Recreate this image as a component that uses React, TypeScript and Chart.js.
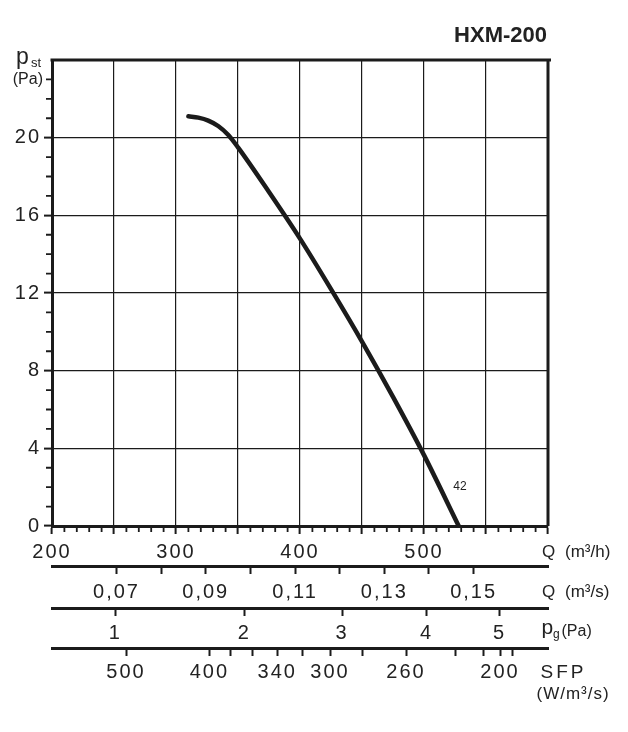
import React, { useEffect, useRef } from 'react';
import { Chart, registerables } from 'chart.js';

Chart.register(...registerables);

// ---------- data ----------
const flowM3h = [310, 318, 326, 334, 342, 350, 375, 400, 425, 450, 475, 500, 528];
const staticPressurePa = [21.1, 21.03, 20.88, 20.6, 20.15, 19.5, 17.2, 14.8, 12.2, 9.5, 6.65, 3.65, 0];
const curveName = '42';
const curveNameFlow = 529;
const curveNamePressure = 2.0;

const modelName = 'HXM-200';

const flowMin = 200;
const flowMax = 600;
const pressureMin = 0;
const pressureMax = 24;

const flowGridTicks = [200, 250, 300, 350, 400, 450, 500, 550, 600];
const flowTickLabels = [200, 300, 400, 500];
const flowMinorTicks = [210, 220, 230, 240, 260, 270, 280, 290, 310, 320, 330, 340, 360, 370, 380, 390,
  410, 420, 430, 440, 460, 470, 480, 490, 510, 520, 530, 540, 560, 570, 580, 590];

const pressureGridTicks = [0, 4, 8, 12, 16, 20, 24];
const pressureTickLabels = [0, 4, 8, 12, 16, 20];
const pressureMinorTicks = [1, 2, 3, 5, 6, 7, 9, 10, 11, 13, 14, 15, 17, 18, 19, 21, 22, 23];

const flowM3sTicks = [0.07, 0.08, 0.09, 0.10, 0.11, 0.12, 0.13, 0.14, 0.15];
const flowM3sTickLabels = ['0,07', '', '0,09', '', '0,11', '', '0,13', '', '0,15'];

const dynPressureTickLabels = ['1', '2', '3', '4', '5'];
const dynPressureFlowM3h = [251, 355, 434, 502, 561];

const sfpTickLabels = ['500', '400', '', '', '340', '', '300', '', '260', '', '', '200', ''];
const sfpFlowM3h = [259.7, 326.9, 344.1, 361.9, 381.7, 402.2, 424.2, 450.6, 485.5, 525.2, 547.8, 561.3, 571.5];

// ---------- styles ----------
const INK = '#1b1b1b';
const TEXT = '#222222';
const FAMILY = '"Liberation Sans", Arial, Helvetica, sans-serif';
const tickFont = { family: FAMILY, size: 20, lineHeight: 1.2 };

const spacingPlugin = {
  id: 'spacing',
  beforeLayout(chart: any) {
    chart.ctx.letterSpacing = '2px';
  },
  beforeDraw(chart: any) {
    chart.ctx.letterSpacing = '2px';
  },
};

const decorPlugin = {
  id: 'decor',
  afterDraw(chart: any) {
    const { ctx, chartArea } = chart;
    const { left, right, top, bottom } = chartArea;
    const xs = chart.scales.x;
    const ys = chart.scales.y;
    ctx.save();
    ctx.letterSpacing = '0px';

    // frame: top and right edges
    ctx.strokeStyle = INK;
    ctx.lineWidth = 3;
    ctx.beginPath();
    ctx.moveTo(left - 1.5, top);
    ctx.lineTo(right + 3, top);
    ctx.moveTo(right, top);
    ctx.lineTo(right, bottom);
    ctx.stroke();

    // minor ticks
    ctx.lineWidth = 1.8;
    ctx.beginPath();
    flowMinorTicks.forEach((v) => {
      const px = xs.getPixelForValue(v);
      ctx.moveTo(px, bottom);
      ctx.lineTo(px, bottom + 6);
    });
    pressureMinorTicks.forEach((v) => {
      const py = ys.getPixelForValue(v);
      ctx.moveTo(left, py);
      ctx.lineTo(left - 6, py);
    });
    ctx.stroke();

    // curve label
    ctx.fillStyle = TEXT;
    ctx.font = `12px ${FAMILY}`;
    ctx.textAlign = 'center';
    ctx.textBaseline = 'middle';
    ctx.fillText(curveName, xs.getPixelForValue(curveNameFlow), ys.getPixelForValue(curveNamePressure));

    // title
    ctx.font = `bold 22px ${FAMILY}`;
    ctx.textAlign = 'right';
    ctx.textBaseline = 'alphabetic';
    ctx.fillText(modelName, right - 1, top - 18);

    // y axis title
    ctx.textAlign = 'left';
    ctx.font = `23px ${FAMILY}`;
    ctx.fillText('p', left - 36, top + 4);
    ctx.font = `13px ${FAMILY}`;
    ctx.fillText('st', left - 21, top + 7);
    ctx.font = `16px ${FAMILY}`;
    ctx.textAlign = 'right';
    ctx.textBaseline = 'middle';
    ctx.fillText('(Pa)', left - 9, top + 20);

    // right-hand axis titles
    const sx = chart.scales.xs;
    const sp = chart.scales.pg;
    const sf = chart.scales.sfp;
    ctx.textAlign = 'left';
    ctx.textBaseline = 'middle';
    ctx.font = `17px ${FAMILY}`;
    ctx.fillText('Q', right - 6, xs.top + 26);
    ctx.fillText('(m³/h)', right + 17, xs.top + 26);
    ctx.fillText('Q', right - 6, sx.top + 26);
    ctx.fillText('(m³/s)', right + 17, sx.top + 26);

    ctx.textBaseline = 'alphabetic';
    ctx.font = `21px ${FAMILY}`;
    ctx.fillText('p', right - 6.5, sp.top + 26);
    ctx.font = `12px ${FAMILY}`;
    ctx.fillText('g', right + 5, sp.top + 29.5);
    ctx.font = `16px ${FAMILY}`;
    ctx.textBaseline = 'middle';
    ctx.fillText('(Pa)', right + 13.5, sp.top + 23.5);

    ctx.font = `19px ${FAMILY}`;
    ctx.letterSpacing = '3px';
    ctx.fillText('SFP', right - 7.5, sf.top + 24.5);
    ctx.font = `17px ${FAMILY}`;
    ctx.letterSpacing = '1px';
    ctx.fillText('(W/m³/s)', right - 11.5, sf.top + 46);
    ctx.restore();
  },
};

function secondaryAxis(weight: number, height: number, values: number[], labels: string[], pad: number) {
  return {
    type: 'linear',
    position: 'bottom',
    weight,
    min: flowMin,
    max: flowMax,
    afterBuildTicks: (s: any) => {
      s.ticks = values.map((v) => ({ value: v }));
    },
    afterFit: (s: any) => {
      s.height = height;
    },
    ticks: {
      autoSkip: false,
      maxRotation: 0,
      padding: pad,
      color: TEXT,
      font: tickFont,
      callback: (_v: any, i: number) => labels[i],
    },
    grid: {
      drawOnChartArea: false,
      drawTicks: true,
      tickLength: 8,
      tickWidth: 2,
      tickColor: INK,
    },
    border: { display: true, width: 3, color: INK },
  };
}

export default function App() {
  const ref = useRef<HTMLCanvasElement>(null);

  useEffect(() => {
    if (!ref.current) return;
    const points = flowM3h.map((q, i) => ({ x: q, y: staticPressurePa[i] }));
    const chart = new Chart(ref.current, {
      type: 'line',
      data: {
        datasets: [
          {
            data: points,
            borderColor: INK,
            borderWidth: 4.5,
            borderCapStyle: 'round',
            pointRadius: 0,
            cubicInterpolationMode: 'monotone',
            xAxisID: 'x',
            yAxisID: 'y',
          },
        ],
      },
      options: {
        animation: false,
        responsive: true,
        maintainAspectRatio: false,
        layout: { padding: { top: 52, right: 72, bottom: 20, left: 0 } },
        plugins: {
          legend: { display: false },
          tooltip: { enabled: false },
          title: { display: false },
        },
        scales: {
          x: {
            type: 'linear',
            position: 'bottom',
            weight: 0,
            min: flowMin,
            max: flowMax,
            afterBuildTicks: (s: any) => {
              s.ticks = flowGridTicks.map((v) => ({ value: v }));
            },
            afterFit: (s: any) => {
              s.height = 40;
            },
            ticks: {
              autoSkip: false,
              maxRotation: 0,
              padding: 6,
              color: TEXT,
              font: tickFont,
              callback: (v: any) => (flowTickLabels.includes(v) ? String(v) : ''),
            },
            grid: {
              color: INK,
              lineWidth: 1.2,
              drawTicks: true,
              tickLength: 8,
              tickWidth: 2,
              tickColor: INK,
            },
            border: { display: true, width: 3, color: INK },
          },
          xs: secondaryAxis(1, 42, flowM3sTicks.map((v) => v * 3600), flowM3sTickLabels, 6),
          pg: secondaryAxis(2, 40, dynPressureFlowM3h, dynPressureTickLabels, 5),
          sfp: secondaryAxis(3, 50, sfpFlowM3h, sfpTickLabels, 4),
          y: {
            type: 'linear',
            position: 'left',
            min: pressureMin,
            max: pressureMax,
            afterBuildTicks: (s: any) => {
              s.ticks = pressureGridTicks.map((v) => ({ value: v }));
            },
            afterFit: (s: any) => {
              s.width = 44;
            },
            ticks: {
              padding: 3,
              color: TEXT,
              font: tickFont,
              callback: (v: any) => (pressureTickLabels.includes(v) ? String(v) : ''),
            },
            grid: {
              color: INK,
              lineWidth: 1.2,
              drawTicks: true,
              tickLength: 8,
              tickWidth: 2,
              tickColor: (c: any) => (c.tick && c.tick.value === pressureMax ? 'rgba(0,0,0,0)' : INK),
            },
            border: { display: true, width: 3, color: INK },
          },
        },
      } as any,
      plugins: [spacingPlugin, decorPlugin],
    });
    return () => chart.destroy();
  }, []);

  return (
    <div style={{ position: 'relative', width: 612, height: 710 }}>
      <canvas ref={ref} />
    </div>
  );
}
